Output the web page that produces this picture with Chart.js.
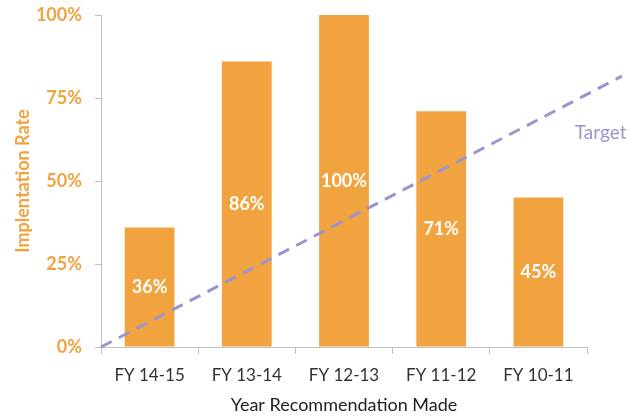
<!DOCTYPE html>
<html>
<head>
<meta charset="utf-8">
<script src="https://cdn.jsdelivr.net/npm/chart.js@4"></script>
<style>
  html, body { margin: 0; padding: 0; background: #fff; }
  #wrap { width: 644px; height: 416px; }
</style>
</head>
<body>
<div id="wrap"><canvas id="chart" width="644" height="416"></canvas></div>
<script>
// data
const categories = ['FY 14-15', 'FY 13-14', 'FY 12-13', 'FY 11-12', 'FY 10-11'];
const rates = [36, 86, 100, 71, 45];
// dashed target line: start and end points (x in category units, runs past the axis)
const targetX = [0, 5.36];
const targetY = [0, 81.6];
const targetLabel = 'Target';
const yTicks = [0, 25, 50, 75, 100];

const ORANGE = '#F0A33E';
const PURPLE = '#9D93CF';
const AXIS = '#BFBFBF';
const FONT = "'Lato', 'Liberation Sans', sans-serif";

// white % labels in the middle of each bar + the "Target" note
const barLabels = {
    id: 'barLabels',
    afterDatasetsDraw(chart) {
        const ctx = chart.ctx;
        const meta = chart.getDatasetMeta(0);
        ctx.save();
        ctx.fillStyle = '#fff';
        ctx.font = 'bold 18px ' + FONT;
        ctx.textAlign = 'center';
        ctx.textBaseline = 'middle';
        meta.data.forEach((bar, i) => {
            ctx.fillText(rates[i] + '%', bar.x, (bar.y + bar.base) / 2);
        });
        const x2 = chart.scales.x2, y = chart.scales.y;
        ctx.fillStyle = PURPLE;
        ctx.font = '19px ' + FONT;
        ctx.fillText(targetLabel, x2.getPixelForValue(5.14), y.getPixelForValue(64.5));
        ctx.restore();
    }
};

new Chart(document.getElementById('chart'), {
    type: 'bar',
    data: {
        labels: categories,
        datasets: [
            {
                label: 'Implementation Rate',
                data: rates,
                backgroundColor: ORANGE,
                grouped: false,
                barPercentage: 0.64,
                categoryPercentage: 0.8,
                order: 2
            },
            {
                type: 'line',
                label: 'Target',
                data: targetX.map((x, i) => ({ x: x, y: targetY[i] })),
                xAxisID: 'x2',
                borderColor: PURPLE,
                borderWidth: 3,
                borderDash: [12, 8],
                pointRadius: 0,
                clip: false,
                order: 1
            }
        ]
    },
    options: {
        responsive: false,
        animation: false,
        layout: { padding: { left: 0, right: 57, top: 15, bottom: 0 } },
        plugins: { legend: { display: false }, tooltip: { enabled: false } },
        scales: {
            x: {
                grid: { display: true, drawOnChartArea: false, drawTicks: true, tickLength: 7, color: AXIS, offset: true },
                border: { color: AXIS, width: 1 },
                ticks: { color: '#333', font: { family: FONT, size: 17 }, padding: 11 },
                title: { display: true, text: 'Year Recommendation Made', color: '#222', font: { family: FONT, size: 18 }, padding: { top: 4, bottom: 0 } },
                afterFit(s) { s.height = 69; s.paddingLeft = 0; s.paddingRight = 0; }
            },
            x2: {
                type: 'linear',
                display: false,
                offset: false,
                min: 0,
                max: categories.length
            },
            y: {
                min: 0,
                max: 100,
                afterBuildTicks(s) { s.ticks = yTicks.map(v => ({ value: v })); },
                grid: { display: true, drawOnChartArea: false, drawTicks: true, tickLength: 6, color: AXIS },
                border: { color: AXIS, width: 1 },
                ticks: { color: ORANGE, font: { family: FONT, size: 18, weight: 'bold' }, padding: 13, callback: v => v + '%' },
                title: { display: true, text: 'Implentation Rate', color: ORANGE, font: { family: FONT, size: 18, weight: 'bold' }, padding: { top: 12, bottom: 0 } },
                afterFit(s) { s.width = 101; s.paddingTop = 0; s.paddingBottom = 0; }
            }
        }
    },
    plugins: [barLabels]
});
</script>
</body>
</html>
